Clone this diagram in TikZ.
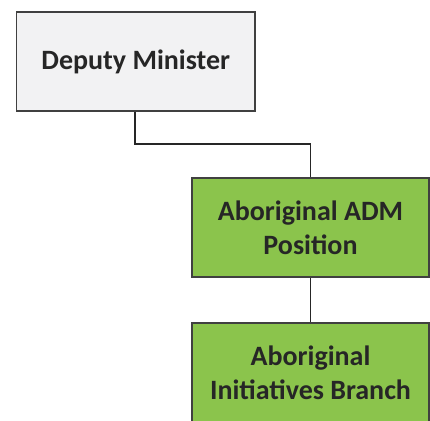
\documentclass[tikz,border=0pt]{standalone}
\usepackage{fontspec}
\setmainfont{Carlito}
\definecolor{boxgreen}{RGB}{139,196,76}
\definecolor{boxgray}{RGB}{242,242,243}
\definecolor{edge}{RGB}{64,64,64}
\tikzset{
  orgbox/.style={draw=edge, line width=1.2pt, minimum width=238pt, minimum height=99pt, inner sep=0pt, align=center, font=\fontsize{28}{34}\selectfont\bfseries, text=black!85},
  link/.style={draw=black!85, line width=1.4pt}
}
\begin{document}
\begin{tikzpicture}[x=1pt,y=-1pt]
\useasboundingbox (0,0) rectangle (430,420);
\node[orgbox, fill=boxgray, minimum width=238.5pt] (dm) at (135.75,61.5) {Deputy Minister};
\node[orgbox, fill=boxgreen, minimum width=237pt] (adm) at (310.5,227.5) {Aboriginal ADM\\Position};
\node[orgbox, fill=boxgreen, minimum width=237pt] (aib) at (310.5,372.5) {Aboriginal\\Initiatives Branch};
\coordinate (turn) at (135,144);
\draw[link] (dm.south -| turn) -- (turn) -| (adm.north);
\draw[link] (adm.south) -- (aib.north);
\end{tikzpicture}
\end{document}
